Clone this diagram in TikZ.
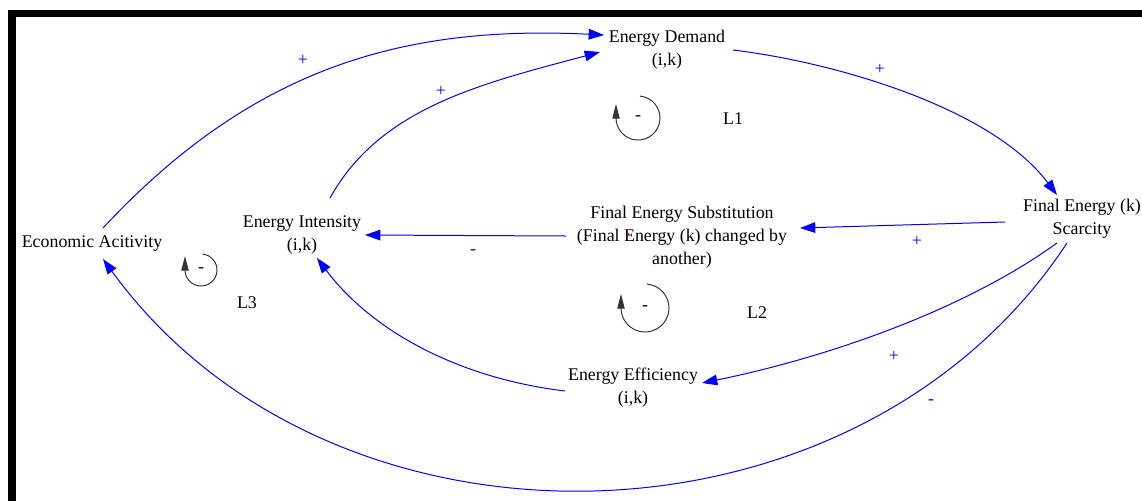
\documentclass[tikz,border=0pt]{standalone}
\usepackage{fontspec}
\setmainfont{Liberation Serif}
\usetikzlibrary{arrows.meta,calc}

\begin{document}
\begin{tikzpicture}[x=0.75pt,y=-0.75pt,>={Triangle[length=11.5pt,width=8pt]},line join=miter,
    every node/.style={font=\fontsize{13.4}{17.3}\selectfont,inner sep=0pt,align=center},
    link/.style={->,blue,line width=0.75pt},
    pol/.style={text=blue},
    loopline/.style={-{Triangle[length=11pt,width=5.5pt]},black!80,line width=0.75pt}]
    \useasboundingbox (0,0) rectangle (1142,501);
    % frame
    \draw[line width=5.6pt] (12,501) -- (12,13.5) -- (1142,13.5);
    % variables
    \node (ea) at (92,244) {Economic Acitivity};
    \node (ed) at (667,50) {Energy Demand\\(i,k)};
    \node (ei) at (302,235) {Energy Intensity\\(i,k)};
    \node (fs) at (682,237) {Final Energy Substitution\\(Final Energy (k) changed by\\another)};
    \node (fk) at (1082,219) {Final Energy (k)\\Scarcity};
    \node (ee) at (633,388) {Energy Efficiency\\(i,k)};
    \fill[red] (628,234) circle (1.5);
    % links
    \draw[link] ($(ea)+(11,-16)$) .. controls +(150,-161) and +(-200,-10) .. ($(ed)+(-63,-15)$);
    \draw[link] ($(ei)+(28,-37)$) .. controls +(50,-90) and +(-120,32) .. ($(ed)+(-67,2)$);
    \draw[link] ($(ed)+(66,0)$) .. controls +(100,12) and +(-66,-88) .. ($(fk)+(-25,-24)$);
    \draw[link] ($(fk)+(-77,3)$) -- ($(fs)+(118,-9)$);
    \draw[link] ($(fs)+(-116,-1)$) -- ($(ei)+(63,0)$);
    \draw[link] ($(fk)+(-25,24)$) .. controls +(-97,70) and +(118,-24) .. ($(ee)+(69,-5)$);
    \draw[link] ($(ee)+(-68,3)$) .. controls +(-108,-13) and +(54,72) .. ($(ei)+(15,23)$);
    \draw[link] ($(fk)+(-15,24)$) .. controls +(-212,322) and +(228,314) .. ($(ea)+(11,15)$);
    % polarities
    \node[pol] (p1) at (303,60) {+};
    \node[pol] (p2) at (441,91) {+};
    \node[pol] (p3) at (880,69) {+};
    \node[pol] (p4) at (917,241) {+};
    \node[pol] (p5) at (473,252) {-};
    \node[pol] (p6) at (894,356) {+};
    \node[pol] (p7) at (931,402) {-};
    % loops
    \foreach \nm/\cx/\cy/\r/\lx/\ly in {L1/638/118/22/733/119,L2/645/308/24/757/313,L3/201/270/16/247/303} {
        \node (s\nm) at (\cx,\cy) {-};
        \draw[loopline] ($(s\nm)+(-85:\r)$) arc[start angle=-85,end angle=180,radius=\r] -- ++(0,-14);
        \node (n\nm) at (\lx,\ly) {\nm};
    }
\end{tikzpicture}
\end{document}
